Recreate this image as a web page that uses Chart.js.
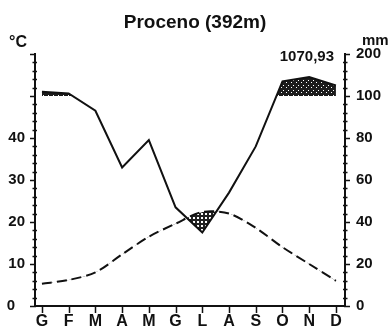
<!DOCTYPE html>
<html><head><meta charset="utf-8">
<script src="https://cdn.jsdelivr.net/npm/chart.js@4.4.1/dist/chart.umd.min.js"></script>
<style>html,body{margin:0;padding:0;background:#fff;}canvas{display:block;}</style>
</head><body>
<canvas id="c" width="390" height="334"></canvas>
<script>
const months = ['G','F','M','A','M','G','L','A','S','O','N','D'];
const temperature = [5.3, 6.2, 8.0, 12.3, 16.5, 19.6, 22.4, 22.0, 18.6, 14.0, 10.0, 6.0];
const precipitation = [110, 106, 93, 66, 79, 47, 35, 54, 76, 135, 145, 125];
const tempTickLabels = ['', '10', '20', '30', '40', '', ''];
const precipTickLabels = ['0', '20', '40', '60', '80', '100', '200'];
const titleText = 'Proceno (392m)';
const annualTotal = '1070,93';

const FONT = "'Liberation Sans', Arial, sans-serif";
const INK = '#111';

// Walter-Lieth scale: 20 mm = 10 °C up to 100 mm, then 100 mm = 10 °C
function scalePrec(p) { return p <= 100 ? p / 2 : 50 + (p - 100) / 10; }

function makePattern(size, bg, dots) {
  const c = document.createElement('canvas');
  c.width = c.height = size;
  const g = c.getContext('2d');
  g.fillStyle = bg; g.fillRect(0, 0, size, size);
  g.fillStyle = '#fff';
  dots.forEach(([x, y, w]) => g.fillRect(x, y, w, w));
  return g.createPattern(c, 'repeat');
}
const dryPattern = makePattern(4, '#222', [[1, 1, 2]]);
const wetPattern = makePattern(5, '#1c1c1c', [[1, 2, 1], [3, 0, 1]]);

const tempData = temperature.map((t, i) => ({x: i, y: t}));
const precData = precipitation.map((p, i) => ({x: i, y: scalePrec(p)}));

const decor = {
  id: 'decor',
  afterDraw(chart) {
    const ctx = chart.ctx;
    const {left, right, bottom} = chart.chartArea;
    const ys = chart.scales.y, xs = chart.scales.x;
    ctx.save();
    ctx.strokeStyle = INK;
    ctx.lineWidth = 1.5;
    ctx.beginPath();
    for (let v = 0; v <= 60; v += 2) {
      const py = Math.round(ys.getPixelForValue(v)) + 0.5;
      const major = v % 10 === 0;
      ctx.moveTo(left - (major ? 5 : 2.5), py); ctx.lineTo(left + (major ? 1 : 2), py);
      ctx.moveTo(right - (major ? 1 : 2), py); ctx.lineTo(right + (major ? 5 : 2.5), py);
    }
    months.forEach((m, i) => {
      const px = Math.round(xs.getPixelForValue(i)) + 0.5;
      ctx.moveTo(px, bottom); ctx.lineTo(px, bottom + 7);
    });
    ctx.stroke();

    ctx.fillStyle = INK;
    ctx.textBaseline = 'middle';
    ctx.font = 'bold 19px ' + FONT;
    ctx.textAlign = 'center';
    ctx.fillText(titleText, 195, 23);
    ctx.font = 'bold 16px ' + FONT;
    ctx.textAlign = 'left';
    ctx.fillText('°C', 9, 43);
    ctx.font = 'bold 15px ' + FONT;
    ctx.fillText('mm', 362, 41);
    ctx.textAlign = 'right';
    ctx.fillText(annualTotal, 334, 57);
    ctx.textAlign = 'center';
    ctx.fillText('0', 11, ys.getPixelForValue(0));
    ctx.restore();
  }
};

new Chart(document.getElementById('c'), {
  type: 'line',
  data: {
    datasets: [
      {label: 'Temperatura', data: tempData, borderColor: INK, borderWidth: 2, borderDash: [10, 5],
       pointRadius: 0, tension: 0.3, fill: false, yAxisID: 'y'},
      {label: 'Precipitazioni', data: precData, borderColor: INK, borderWidth: 2, pointRadius: 0,
       tension: 0, fill: {target: 0, above: 'rgba(0,0,0,0)', below: dryPattern}, yAxisID: 'y'},
      {label: 'Umido', data: precData, borderColor: 'rgba(0,0,0,0)', borderWidth: 0, pointRadius: 0,
       tension: 0, fill: {target: {value: 50}, above: wetPattern, below: 'rgba(0,0,0,0)'}, yAxisID: 'y'}
    ]
  },
  options: {
    responsive: false, animation: false, devicePixelRatio: 1,
    layout: {padding: {top: 54, left: 0, right: 0, bottom: 0}},
    plugins: {legend: {display: false}, tooltip: {enabled: false}, filler: {propagate: false}},
    scales: {
      x: {
        type: 'linear', min: -0.26, max: 11.34,
        grid: {display: false, drawTicks: false},
        border: {display: true, color: INK, width: 2},
        afterBuildTicks: s => { s.ticks = months.map((m, i) => ({value: i})); },
        afterFit: s => { s.height = 28; },
        ticks: {autoSkip: false, maxRotation: 0, padding: 6, color: INK,
                font: {family: FONT, size: 16, weight: 'bold'},
                callback: v => months[Math.round(v)] ?? ''}
      },
      y: {
        position: 'left', min: 0, max: 60,
        grid: {display: false, drawTicks: false},
        border: {display: true, color: INK, width: 2},
        afterFit: s => { s.width = 35; },
        ticks: {stepSize: 10, padding: 10, color: INK, font: {family: FONT, size: 15, weight: 'bold'},
                callback: v => tempTickLabels[Math.round(v / 10)] ?? ''}
      },
      y2: {
        position: 'right', min: 0, max: 60,
        grid: {display: false, drawTicks: false},
        border: {display: true, color: INK, width: 2},
        afterFit: s => { s.width = 45; },
        ticks: {stepSize: 10, padding: 11, color: INK, font: {family: FONT, size: 15, weight: 'bold'},
                callback: v => precipTickLabels[Math.round(v / 10)] ?? ''}
      }
    }
  },
  plugins: [decor]
});
</script>
</body></html>
